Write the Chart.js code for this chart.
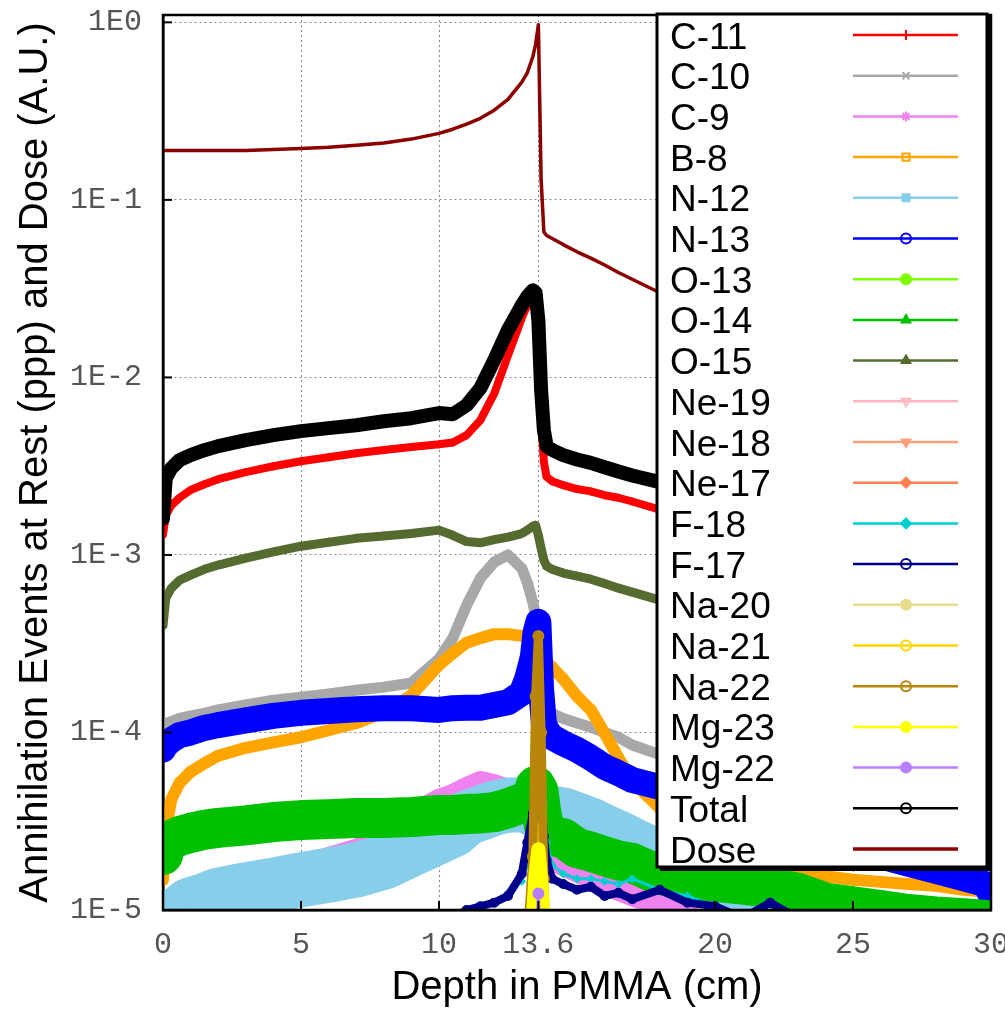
<!DOCTYPE html>
<html>
<head>
<meta charset="utf-8">
<title>Annihilation events at rest and dose vs depth in PMMA</title>
<script src="https://cdn.jsdelivr.net/npm/chart.js@4.4.1/dist/chart.umd.min.js"></script>
<style>
  html, body { margin: 0; padding: 0; background: #ffffff; }
  #wrap { width: 1005px; height: 1011px; position: relative; }
</style>
</head>
<body>
<div id="wrap"><canvas id="chart"></canvas></div>
<script>
// Depth bins (cm) - finer around the Bragg peak at 13.6 cm
const depth = [0, 0.1, 0.3, 0.6, 1, 1.5, 2, 3, 4, 5,
  6, 7, 8, 9, 10, 10.5, 11, 11.5, 12, 12.5,
  13, 13.2, 13.4, 13.5, 13.6, 13.7, 13.8, 13.9, 14.1, 14.5,
  15, 15.5, 16, 16.5, 17, 18, 19, 20, 21, 22,
  23, 24, 25, 26, 27, 28, 29, 29.8, 30];

const xTickValues = [0, 5, 10, 13.6, 20, 25, 30];
const xTickLabels = ['0', '5', '10', '13.6', '20', '25', '30'];
const yTickValues = [1e-5, 1e-4, 1e-3, 1e-2, 1e-1, 1];
const yTickLabels = ['1E-5', '1E-4', '1E-3', '1E-2', '1E-1', '1E0'];

const c11 = [1.3e-3, 1.67e-3, 1.9e-3, 2.1e-3, 2.32e-3, 2.5e-3, 2.67e-3, 2.93e-3, 3.16e-3, 3.37e-3,
  3.55e-3, 3.74e-3, 3.9e-3, 4.05e-3, 4.2e-3, 4.3e-3, 4.73e-3, 5.74e-3, 8.1e-3, 1.33e-2,
  2.16e-2, 2.55e-2, 2.86e-2, 2.72e-2, 1.52e-2, 5.74e-3, 3.33e-3, 2.75e-3, 2.6e-3, 2.47e-3,
  2.35e-3, 2.28e-3, 2.17e-3, 2.1e-3, 2.0e-3, 1.8e-3, 1.72e-3, 1.6e-3, 1.47e-3, 1.35e-3,
  1.21e-3, 1.11e-3, 1.01e-3, 9.3e-4, 8.5e-4, 7.8e-4, 7.1e-4, 6.3e-4, 3.9e-4];

const c10 = [1.1e-4, 1.12e-4, 1.15e-4, 1.2e-4, 1.24e-4, 1.28e-4, 1.34e-4, 1.43e-4, 1.52e-4, 1.58e-4,
  1.65e-4, 1.73e-4, 1.8e-4, 1.9e-4, 2.6e-4, 3.4e-4, 5.2e-4, 7.4e-4, 9.1e-4, 1.0e-3,
  8.4e-4, 7.0e-4, 5.4e-4, 4.6e-4, 3.1e-4, 1.85e-4, 1.43e-4, 1.34e-4, 1.28e-4, 1.2e-4,
  1.13e-4, 1.07e-4, 1.0e-4, 9.4e-5, 8.5e-5, 7.5e-5, 7.0e-5, 6.6e-5, 6.3e-5, 6.0e-5,
  5.7e-5, 5.5e-5, 5.3e-5, 5.1e-5, 4.9e-5, 4.7e-5, 4.5e-5, 4.4e-5, 3.6e-5];

const c9 = [6.0e-6, 7.6e-6, 9.2e-6, 1.07e-5, 1.17e-5, 1.24e-5, 1.33e-5, 1.48e-5, 1.65e-5, 1.79e-5,
  1.96e-5, 2.18e-5, 2.54e-5, 3.43e-5, 4.17e-5, 4.44e-5, 4.86e-5, 5.26e-5, 5.05e-5, 4.74e-5,
  4.17e-5, 3.9e-5, 3.43e-5, 3.1e-5, 2.83e-5, 2.5e-5, 2.25e-5, 2.12e-5, 1.96e-5, 1.79e-5,
  1.65e-5, 1.52e-5, 1.38e-5, 1.3e-5, 1.21e-5, 1.07e-5, 9.2e-6, 8.1e-6, 7.4e-6, 6.8e-6,
  6.3e-6, 5.8e-6, 5.4e-6, 5.0e-6, 4.7e-6, 4.4e-6, 4.2e-6, 4.0e-6, 3.8e-6];

const b8 = [1.48e-5, 2.8e-5, 4.2e-5, 5.2e-5, 6.0e-5, 6.7e-5, 7.4e-5, 8.2e-5, 8.8e-5, 9.4e-5,
  1.03e-4, 1.13e-4, 1.3e-4, 1.62e-4, 2.4e-4, 2.8e-4, 3.2e-4, 3.4e-4, 3.58e-4, 3.58e-4,
  3.5e-4, 3.45e-4, 3.3e-4, 3.2e-4, 3.06e-4, 2.8e-4, 2.6e-4, 2.5e-4, 2.33e-4, 2.0e-4,
  1.6e-4, 1.34e-4, 9.9e-5, 7.2e-5, 5.3e-5, 3.75e-5, 2.9e-5, 2.4e-5, 2.0e-5, 1.8e-5,
  1.65e-5, 1.55e-5, 1.48e-5, 1.44e-5, 1.4e-5, 1.37e-5, 1.3e-5, 1.27e-5, 1.14e-5];

const n12 = [6.8e-6, 7.6e-6, 8.7e-6, 9.6e-6, 1.07e-5, 1.13e-5, 1.21e-5, 1.3e-5, 1.38e-5, 1.48e-5,
  1.57e-5, 1.68e-5, 1.86e-5, 2.2e-5, 2.6e-5, 2.83e-5, 3.3e-5, 3.5e-5, 3.75e-5, 3.9e-5,
  3.9e-5, 3.85e-5, 3.75e-5, 3.66e-5, 3.66e-5, 3.66e-5, 3.6e-5, 3.56e-5, 3.52e-5, 3.43e-5,
  3.21e-5, 3.0e-5, 2.75e-5, 2.54e-5, 2.32e-5, 1.96e-5, 1.68e-5, 1.48e-5, 1.3e-5, 1.17e-5,
  1.07e-5, 9.6e-6, 9.0e-6, 8.3e-6, 7.6e-6, 7.2e-6, 6.8e-6, 6.5e-6, 6.0e-6];

const n13 = [8.0e-5, 8.5e-5, 9.06e-5, 9.67e-5, 1.0e-4, 1.06e-4, 1.1e-4, 1.17e-4, 1.24e-4, 1.29e-4,
  1.32e-4, 1.35e-4, 1.37e-4, 1.37e-4, 1.34e-4, 1.37e-4, 1.38e-4, 1.38e-4, 1.43e-4, 1.48e-4,
  1.67e-4, 2.02e-4, 2.66e-4, 3.67e-4, 4.2e-4, 1.73e-4, 1.13e-4, 1.03e-4, 9.4e-5, 8.7e-5,
  8.0e-5, 7.2e-5, 6.4e-5, 5.9e-5, 5.4e-5, 4.93e-5, 4.33e-5, 3.85e-5, 3.43e-5, 3.05e-5,
  2.75e-5, 2.48e-5, 2.23e-5, 2.01e-5, 1.82e-5, 1.66e-5, 1.51e-5, 1.4e-5, 1.21e-5];

const o13 = [2e-6, 2e-6, 2e-6, 2e-6, 2e-6, 2e-6, 2e-6, 2e-6, 2e-6, 2e-6,
  2e-6, 2e-6, 2e-6, 2e-6, 2e-6, 2e-6, 2e-6, 2e-6, 2e-6, 2e-6,
  3e-6, 3e-6, 4e-6, 6e-6, 8e-6, 5e-6, 3e-6, 2e-6, 2e-6, 2e-6,
  2e-6, 2e-6, 2e-6, 2e-6, 2e-6, 2e-6, 2e-6, 2e-6, 2e-6, 2e-6,
  2e-6, 2e-6, 2e-6, 2e-6, 2e-6, 2e-6, 2e-6, 2e-6, 2e-6];

const o14 = [2.04e-5, 2.32e-5, 2.48e-5, 2.61e-5, 2.72e-5, 2.83e-5, 2.9e-5, 3.0e-5, 3.13e-5, 3.21e-5,
  3.25e-5, 3.3e-5, 3.3e-5, 3.34e-5, 3.43e-5, 3.43e-5, 3.47e-5, 3.5e-5, 3.56e-5, 3.74e-5,
  4.0e-5, 4.13e-5, 4.44e-5, 5.0e-5, 4.7e-5, 3.6e-5, 3.0e-5, 2.75e-5, 2.61e-5, 2.54e-5,
  2.23e-5, 2.13e-5, 2.01e-5, 1.9e-5, 1.84e-5, 1.57e-5, 1.5e-5, 1.44e-5, 1.39e-5, 1.33e-5,
  1.25e-5, 1.1e-5, 1.05e-5, 1.0e-5, 9.5e-6, 9.2e-6, 9.0e-6, 8.8e-6, 8.5e-6];

const o15 = [4.0e-4, 5.7e-4, 6.5e-4, 7.2e-4, 7.7e-4, 8.3e-4, 8.77e-4, 9.6e-4, 1.04e-3, 1.12e-3,
  1.18e-3, 1.24e-3, 1.28e-3, 1.32e-3, 1.38e-3, 1.29e-3, 1.19e-3, 1.17e-3, 1.22e-3, 1.26e-3,
  1.32e-3, 1.38e-3, 1.45e-3, 1.47e-3, 1.29e-3, 1.09e-3, 9.35e-4, 8.65e-4, 8.3e-4, 7.9e-4,
  7.6e-4, 7.3e-4, 6.9e-4, 6.5e-4, 6.17e-4, 5.57e-4, 5.1e-4, 4.66e-4, 4.3e-4, 3.9e-4,
  3.57e-4, 3.27e-4, 3.0e-4, 2.73e-4, 2.5e-4, 2.28e-4, 2.1e-4, 1.9e-4, 1.34e-4];

const ne19 = [1e-6, 1e-6, 1e-6, 1e-6, 1e-6, 1e-6, 1e-6, 1e-6, 1e-6, 1e-6,
  1e-6, 1e-6, 1e-6, 1e-6, 1e-6, 1e-6, 1e-6, 1e-6, 1e-6, 1e-6,
  1e-6, 1e-6, 1e-6, 2e-6, 5e-6, 2e-6, 1e-6, 1e-6, 1e-6, 1e-6,
  1e-6, 1e-6, 1e-6, 1e-6, 1e-6, 1e-6, 1e-6, 1e-6, 1e-6, 1e-6,
  1e-6, 1e-6, 1e-6, 1e-6, 1e-6, 1e-6, 1e-6, 1e-6, 1e-6];

const ne18 = [1e-6, 1e-6, 1e-6, 1e-6, 1e-6, 1e-6, 1e-6, 1e-6, 1e-6, 1e-6,
  1e-6, 1e-6, 1e-6, 1e-6, 1e-6, 1e-6, 1e-6, 1e-6, 1e-6, 1e-6,
  1e-6, 1e-6, 1e-6, 2e-6, 4e-6, 2e-6, 1e-6, 1e-6, 1e-6, 1e-6,
  1e-6, 1e-6, 1e-6, 1e-6, 1e-6, 1e-6, 1e-6, 1e-6, 1e-6, 1e-6,
  1e-6, 1e-6, 1e-6, 1e-6, 1e-6, 1e-6, 1e-6, 1e-6, 1e-6];

const ne17 = [1e-6, 1e-6, 1e-6, 1e-6, 1e-6, 1e-6, 1e-6, 1e-6, 1e-6, 1e-6,
  1e-6, 1e-6, 1e-6, 1e-6, 1e-6, 1e-6, 1e-6, 1e-6, 1e-6, 1e-6,
  1e-6, 1e-6, 1e-6, 1e-6, 3e-6, 1e-6, 1e-6, 1e-6, 1e-6, 1e-6,
  1e-6, 1e-6, 1e-6, 1e-6, 1e-6, 1e-6, 1e-6, 1e-6, 1e-6, 1e-6,
  1e-6, 1e-6, 1e-6, 1e-6, 1e-6, 1e-6, 1e-6, 1e-6, 1e-6];

const f18 = [2e-6, 2e-6, 2e-6, 2e-6, 2e-6, 2e-6, 2e-6, 3e-6, 3e-6, 3e-6,
  4e-6, 4e-6, 5e-6, 6e-6, 9.5e-6, 8e-6, 9e-6, 1.0e-5, 1.1e-5, 1.25e-5,
  1.45e-5, 1.8e-5, 3.5e-5, 1.0e-4, 1.9e-4, 9e-5, 4e-5, 2.4e-5, 1.8e-5, 1.6e-5,
  1.5e-5, 1.5e-5, 1.45e-5, 1.4e-5, 1.5e-5, 1.3e-5, 1.2e-5, 1.05e-5, 9.5e-6, 8e-6,
  7e-6, 6.5e-6, 6e-6, 5.5e-6, 5e-6, 5e-6, 4.5e-6, 4.5e-6, 4e-6];

const f17 = [2e-6, 2e-6, 2e-6, 2e-6, 2e-6, 2e-6, 2e-6, 2e-6, 3e-6, 3e-6,
  3e-6, 4e-6, 4e-6, 5e-6, 8e-6, 9e-6, 1.0e-5, 1.05e-5, 1.1e-5, 1.2e-5,
  1.6e-5, 2.4e-5, 3.5e-5, 6e-5, 8e-5, 5e-5, 2.6e-5, 1.9e-5, 1.5e-5, 1.4e-5,
  1.3e-5, 1.35e-5, 1.2e-5, 1.25e-5, 1.15e-5, 1.3e-5, 1.1e-5, 1.05e-5, 9e-6, 1.1e-5,
  9e-6, 8e-6, 8e-6, 7e-6, 7e-6, 6e-6, 6e-6, 6e-6, 5e-6];

const na20 = [1e-6, 1e-6, 1e-6, 1e-6, 1e-6, 1e-6, 1e-6, 1e-6, 1e-6, 1e-6,
  1e-6, 1e-6, 1e-6, 1e-6, 1e-6, 1e-6, 1e-6, 1e-6, 1e-6, 1e-6,
  1e-6, 1e-6, 1e-6, 8e-6, 1.3e-5, 7e-6, 1e-6, 1e-6, 1e-6, 1e-6,
  1e-6, 1e-6, 1e-6, 1e-6, 1e-6, 1e-6, 1e-6, 1e-6, 1e-6, 1e-6,
  1e-6, 1e-6, 1e-6, 1e-6, 1e-6, 1e-6, 1e-6, 1e-6, 1e-6];

const na21 = [2e-6, 2e-6, 2e-6, 2e-6, 2e-6, 2e-6, 2e-6, 2e-6, 2e-6, 2e-6,
  2e-6, 2e-6, 2e-6, 2e-6, 2e-6, 2e-6, 2e-6, 2e-6, 2e-6, 2e-6,
  2e-6, 2e-6, 6e-6, 1.5e-5, 3e-5, 1.4e-5, 5e-6, 2e-6, 2e-6, 2e-6,
  2e-6, 2e-6, 2e-6, 2e-6, 2e-6, 2e-6, 2e-6, 2e-6, 2e-6, 2e-6,
  2e-6, 2e-6, 2e-6, 2e-6, 2e-6, 2e-6, 2e-6, 2e-6, 2e-6];

const na22 = [2e-6, 2e-6, 2e-6, 2e-6, 2e-6, 2e-6, 2e-6, 2e-6, 2e-6, 2e-6,
  2e-6, 2e-6, 2e-6, 2e-6, 2e-6, 2e-6, 2e-6, 2e-6, 2e-6, 2e-6,
  4e-6, 7e-6, 2e-5, 1.6e-4, 3.5e-4, 1.0e-4, 1.5e-5, 6e-6, 3e-6, 2e-6,
  2e-6, 2e-6, 2e-6, 2e-6, 2e-6, 2e-6, 2e-6, 2e-6, 2e-6, 2e-6,
  2e-6, 2e-6, 2e-6, 2e-6, 2e-6, 2e-6, 2e-6, 2e-6, 2e-6];

const mg23 = [1e-6, 1e-6, 1e-6, 1e-6, 1e-6, 1e-6, 1e-6, 1e-6, 1e-6, 1e-6,
  1e-6, 1e-6, 1e-6, 1e-6, 1e-6, 1e-6, 1e-6, 1e-6, 1e-6, 1e-6,
  2e-6, 5e-6, 9e-6, 1.6e-5, 2.2e-5, 1.5e-5, 8e-6, 4e-6, 1e-6, 1e-6,
  1e-6, 1e-6, 1e-6, 1e-6, 1e-6, 1e-6, 1e-6, 1e-6, 1e-6, 1e-6,
  1e-6, 1e-6, 1e-6, 1e-6, 1e-6, 1e-6, 1e-6, 1e-6, 1e-6];

const mg22 = [1e-6, 1e-6, 1e-6, 1e-6, 1e-6, 1e-6, 1e-6, 1e-6, 1e-6, 1e-6,
  1e-6, 1e-6, 1e-6, 1e-6, 1e-6, 1e-6, 1e-6, 1e-6, 1e-6, 1e-6,
  1e-6, 1e-6, 1e-6, 5e-6, 1.24e-5, 5e-6, 1e-6, 1e-6, 1e-6, 1e-6,
  1e-6, 1e-6, 1e-6, 1e-6, 1e-6, 1e-6, 1e-6, 1e-6, 1e-6, 1e-6,
  1e-6, 1e-6, 1e-6, 1e-6, 1e-6, 1e-6, 1e-6, 1e-6, 1e-6];

const total = [1.6e-3, 2.7e-3, 3.08e-3, 3.42e-3, 3.65e-3, 3.89e-3, 4.1e-3, 4.43e-3, 4.73e-3, 4.98e-3,
  5.18e-3, 5.38e-3, 5.66e-3, 5.89e-3, 6.3e-3, 6.2e-3, 6.97e-3, 8.7e-3, 1.25e-2, 1.85e-2,
  2.55e-2, 2.86e-2, 3.1e-2, 3.0e-2, 2.1e-2, 8.5e-3, 5.05e-3, 4.1e-3, 3.9e-3, 3.65e-3,
  3.45e-3, 3.3e-3, 3.12e-3, 2.95e-3, 2.8e-3, 2.57e-3, 2.36e-3, 2.15e-3, 1.97e-3, 1.8e-3,
  1.65e-3, 1.5e-3, 1.37e-3, 1.25e-3, 1.13e-3, 1.04e-3, 9.5e-4, 8.6e-4, 5.6e-4];

const dose = [0.19, 0.19, 0.19, 0.19, 0.19, 0.19, 0.19, 0.19, 0.192, 0.195,
  0.198, 0.203, 0.209, 0.22, 0.237, 0.25, 0.267, 0.288, 0.32, 0.368,
  0.46, 0.52, 0.64, 0.75, 0.97, 0.13, 0.066, 0.063, 0.0606, 0.056,
  0.051, 0.047, 0.043, 0.039, 0.0357, 0.030, 0.0255, 0.0213, 0.018, 0.015,
  0.0127, 0.0106, 0.0089, 0.0075, 0.0063, 0.0053, 0.0044, 0.0039, 0.0037];

// Series in gnuplot plotting order (later ones drawn on top)
const series = [
  { label: 'C-11', values: c11, color: '#ff0000', width: 8, style: 'cross', radius: 4 },
  { label: 'C-10', values: c10, color: '#a8a8a8', width: 11, style: 'crossRot', radius: 5 },
  { label: 'C-9', values: c9, color: '#ee82ee', width: 22, style: 'star', radius: 6 },
  { label: 'B-8', values: b8, color: '#ffa500', width: 12, style: 'rect', radius: 5 },
  { label: 'N-12', values: n12, color: '#87ceeb', width: 55, style: 'rect', radius: 5, filled: true },
  { label: 'N-13', values: n13, color: '#0000ff', width: 26, style: 'circle', radius: 5 },
  { label: 'O-13', values: o13, color: '#7cfc00', width: 2, style: 'circle', radius: 3, filled: true },
  { label: 'O-14', values: o14, color: '#00c000', width: 40, style: 'triangle', radius: 7, filled: true },
  { label: 'O-15', values: o15, color: '#556b2f', width: 9, style: 'triangle', radius: 3, filled: true },
  { label: 'Ne-19', values: ne19, color: '#ffb6c1', width: 2, style: 'triangle', rotation: 180, radius: 5 },
  { label: 'Ne-18', values: ne18, color: '#ffa07a', width: 2, style: 'triangle', rotation: 180, radius: 3, filled: true },
  { label: 'Ne-17', values: ne17, color: '#ff7f50', width: 2, style: 'rectRot', radius: 4, filled: true },
  { label: 'F-18', values: f18, color: '#00ced1', width: 3, style: 'rectRot', radius: 3, filled: true },
  { label: 'F-17', values: f17, color: '#00008b', width: 8, style: 'circle', radius: 4 },
  { label: 'Na-20', values: na20, color: '#e8dc8c', width: 2, style: 'circle', radius: 3, filled: true },
  { label: 'Na-21', values: na21, color: '#ffd700', width: 4, style: 'circle', radius: 4 },
  { label: 'Na-22', values: na22, color: '#b8860b', width: 9, style: 'circle', radius: 5 },
  { label: 'Mg-23', values: mg23, color: '#ffff00', width: 14, style: 'circle', radius: 5, filled: true },
  { label: 'Mg-22', values: mg22, color: '#b77fff', width: 3, style: 'circle', radius: 5, filled: true },
  { label: 'Total', values: total, color: '#000000', width: 14, style: 'circle', radius: 5 },
  { label: 'Dose', values: dose, color: '#8b0000', width: 3.5, style: false, radius: 0 }
];

const datasets = series.map((s, i) => ({
  label: s.label,
  data: depth.map((d, k) => ({ x: d, y: s.values[k] })),
  borderColor: s.color,
  backgroundColor: s.color,
  borderWidth: s.width,
  borderJoinStyle: 'round',
  borderCapStyle: 'round',
  pointStyle: s.style,
  pointRotation: s.rotation || 0,
  pointRadius: s.radius,
  pointBorderWidth: 2,
  pointBorderColor: s.color,
  pointBackgroundColor: s.filled ? s.color : 'transparent',
  tension: 0,
  fill: false,
  clip: 0,
  order: -i
}));

/**
 * Frame, inward ticks and the key drawn over the plot (gnuplot style)
 */
const overlayKey = {
  id: 'overlayKey',
  afterDatasetsDraw(chart) {
    const { ctx, chartArea: a, scales } = chart;
    ctx.save();

    ctx.strokeStyle = '#000';
    ctx.lineWidth = 2;
    scales.y.ticks.forEach(t => {
      const y = scales.y.getPixelForValue(t.value);
      ctx.beginPath(); ctx.moveTo(a.left, y); ctx.lineTo(a.left + 9, y); ctx.stroke();
    });
    scales.x.ticks.forEach(t => {
      const x = scales.x.getPixelForValue(t.value);
      ctx.beginPath(); ctx.moveTo(x, a.bottom); ctx.lineTo(x, a.bottom - 9); ctx.stroke();
    });
    ctx.lineWidth = 2.5;
    ctx.strokeRect(a.left, a.top, a.right - a.left, a.bottom - a.top);

    // key box
    const bx = a.left + 494, by = a.top - 1;
    const bw = a.right - 4 - bx, bh = 853;
    ctx.fillStyle = '#fff';
    ctx.fillRect(bx, by, bw, bh);
    ctx.lineWidth = 3;
    ctx.strokeRect(bx, by, bw, bh);
    ctx.beginPath();
    ctx.moveTo(bx + bw + 2.5, by + 2); ctx.lineTo(bx + bw + 2.5, by + bh + 2.5); ctx.lineTo(bx + 3, by + bh + 2.5);
    ctx.stroke();

    const step = 40.7;
    chart.data.datasets.forEach((ds, i) => {
      const y = by + 21 + i * step;
      ctx.fillStyle = '#000';
      ctx.font = '37px "Liberation Sans", Arial, sans-serif';
      ctx.textAlign = 'left';
      ctx.textBaseline = 'alphabetic';
      ctx.fillText(ds.label, bx + 13, y + 13.5);

      ctx.strokeStyle = ds.borderColor;
      ctx.lineWidth = ds.label === 'Dose' ? 3.5 : 2.5;
      ctx.beginPath(); ctx.moveTo(bx + 196, y); ctx.lineTo(bx + 301, y); ctx.stroke();

      if (ds.pointStyle) {
        ctx.fillStyle = ds.pointBackgroundColor;
        ctx.strokeStyle = ds.pointBorderColor;
        ctx.lineWidth = 2;
        const opts = { pointStyle: ds.pointStyle, rotation: ds.pointRotation, radius: 5, borderWidth: 2 };
        if (Chart.helpers && Chart.helpers.drawPoint) {
          Chart.helpers.drawPoint(ctx, opts, bx + 249, y);
        } else {
          ctx.beginPath(); ctx.arc(bx + 249, y, 5, 0, Math.PI * 2); ctx.fill(); ctx.stroke();
        }
      }
    });
    ctx.restore();
  }
};

// keep the plot frame where gnuplot put it: no extra label padding
function noPadding(scale) {
  scale.paddingLeft = 0;
  scale.paddingRight = 0;
  scale.paddingTop = 0;
  scale.paddingBottom = 0;
}

const tickFont = { family: '"Liberation Mono", "Courier New", monospace', size: 30 };
const titleFont = { family: '"Liberation Sans", Arial, sans-serif', size: 40, lineHeight: 1 };

new Chart(document.getElementById('chart').getContext('2d'), {
  type: 'line',
  data: { datasets: datasets },
  options: {
    responsive: true,
    maintainAspectRatio: false,
    animation: false,
    events: [],
    layout: { padding: { top: 15, right: 14, left: 0, bottom: 0 } },
    plugins: {
      legend: { display: false },
      tooltip: { enabled: false }
    },
    scales: {
      x: {
        type: 'linear',
        min: 0,
        max: 30,
        afterBuildTicks: scale => { scale.ticks = xTickValues.map(v => ({ value: v })); },
        afterFit: scale => { scale.height = 101; noPadding(scale); },
        ticks: {
          autoSkip: false,
          maxRotation: 0,
          padding: 17,
          color: '#555',
          font: tickFont,
          callback: (value, index) => xTickLabels[index]
        },
        grid: { color: '#8a8a8a', lineWidth: 1, drawTicks: false },
        border: { display: true, color: '#000', width: 2.5, dash: [2, 3] },
        title: {
          display: true,
          text: 'Depth in PMMA (cm)',
          color: '#000',
          font: titleFont,
          padding: { top: 0, bottom: 3 }
        }
      },
      y: {
        type: 'logarithmic',
        min: 1e-5,
        max: 1.1,
        afterBuildTicks: scale => { scale.ticks = yTickValues.map(v => ({ value: v })); },
        afterFit: scale => { scale.width = 163; noPadding(scale); },
        ticks: {
          padding: 21,
          color: '#555',
          font: tickFont,
          callback: (value, index) => yTickLabels[index]
        },
        grid: { color: '#8a8a8a', lineWidth: 1, drawTicks: false },
        border: { display: true, color: '#000', width: 2.5, dash: [2, 3] },
        title: {
          display: true,
          text: 'Annihilation Events at Rest (ppp) and Dose (A.U.)',
          color: '#000',
          font: titleFont,
          padding: { top: 16, bottom: 0 }
        }
      }
    }
  },
  plugins: [overlayKey]
});
</script>
</body>
</html>
